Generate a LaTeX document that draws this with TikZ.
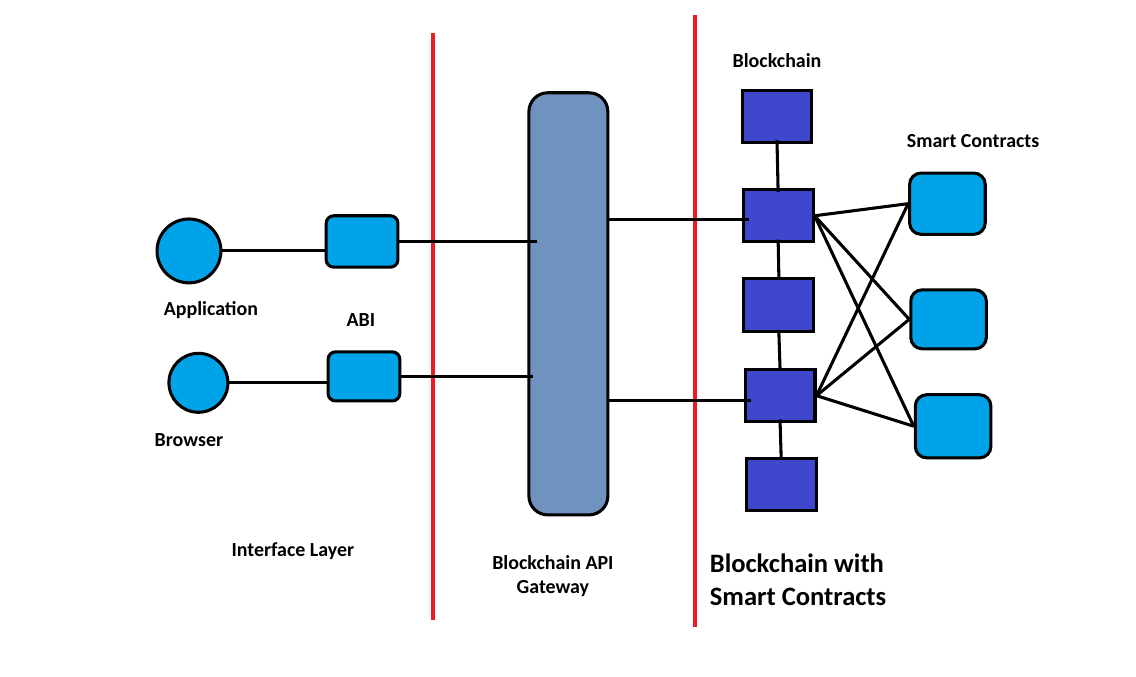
\documentclass[tikz,border=0pt]{standalone}
\usepackage{tikz}
\usetikzlibrary{positioning}
\usepackage{xcolor}
\usepackage{fontspec}
\setmainfont{Carlito}
\definecolor{PaintRed}{HTML}{ED1C24}
\definecolor{PaintIndigo}{HTML}{3F48CC}
\definecolor{PaintCyan}{HTML}{00A2E8}
\definecolor{PaintSlate}{HTML}{7092BE}

\begin{document}
\begin{tikzpicture}[font=\bfseries\fontsize{15}{18}\selectfont,
    wire/.style={line width=2.3pt},
    divider/.style={PaintRed, line width=2.5pt},
    block/.style={draw, line width=2.3pt, fill=PaintIndigo, minimum width=1.85cm, minimum height=1.38cm, inner sep=0pt},
    contract/.style={draw, line width=2.3pt, fill=PaintCyan, rounded corners=0.3cm, minimum width=2cm, minimum height=1.62cm, inner sep=0pt},
    abibox/.style={draw, line width=2.3pt, fill=PaintCyan, rounded corners=0.2cm, minimum width=1.9cm, minimum height=1.36cm, inner sep=0pt},
    client/.style={draw, line width=2.3pt, fill=PaintCyan, circle, inner sep=0pt}]
                \useasboundingbox (0,0) rectangle (30.06,17.91);

                \coordinate (d1top) at (11.46,17.04);
                \coordinate (d1bot) at (11.46,1.51);
                \coordinate (d2top) at (18.39,17.52);
                \coordinate (d2bot) at (18.39,1.32);
                \draw[divider] (d1top) -- (d1bot);
                \draw[divider] (d2top) -- (d2bot);

                \node[client, minimum size=1.69cm] (app) at (5.00,11.27) {};
                \node[client, minimum size=1.56cm] (browser) at (5.25,7.78) {};
                \node[abibox] (abi1) at (9.58,11.52) {};
                \node[abibox, minimum height=1.30cm] (abi2) at (9.63,7.95) {};

                \node[draw, line width=2.3pt, fill=PaintSlate, rounded corners=0.5cm, minimum width=2.09cm, minimum height=11.17cm] (gw) at (15.04,9.87) {};

                \node[block] (b1) at (20.56,14.83) {};
                \node[block] (b2) at (20.59,12.20) {};
                \node[block] (b3) at (20.61,9.84) {};
                \node[block] (b4) at (20.64,7.44) {};
                \node[block] (b5) at (20.67,5.08) {};

                \node[contract] (sc1) at (25.07,12.52) {};
                \node[contract, minimum height=1.56cm] (sc2) at (25.10,9.46) {};
                \node[contract, minimum height=1.67cm] (sc3) at (25.22,6.63) {};

                \draw[wire] (app) -- (app -| abi1.west);
                \draw[wire] (browser) -- (browser -| abi2.west);
                \draw[wire] (abi1.east) -- ([xshift=0.25cm]abi1.east -| gw.west);
                \draw[wire] (abi2.east) -- ([xshift=0.15cm]abi2.east -| gw.west);
                \draw[wire] ([yshift=-0.1cm]b2 -| gw.east) -- ([xshift=0.2cm,yshift=-0.1cm]b2.west);
                \draw[wire] ([yshift=-0.13cm]b4 -| gw.east) -- ([xshift=0.2cm,yshift=-0.13cm]b4.west);

                \draw[wire] ([yshift=0.1cm]b1.south) -- ([yshift=-0.1cm]b2.north);
                \draw[wire] ([yshift=0.1cm]b2.south) -- (b3.north);
                \draw[wire] (b3.south) -- (b4.north);
                \draw[wire] ([yshift=0.1cm]b4.south) -- (b5.north);

                \foreach \src in {b2, b4} {
                    \foreach \dst in {sc1, sc2, sc3} {
                        \draw[wire] (\src.east) -- (\dst.west);
                    }
                }

                \node (bclabel) at (20.56,16.30) {Blockchain};
                \node (sclabel) at (25.75,14.18) {Smart Contracts};
                \node (applabel) at (5.58,9.71) {Application};
                \node (abilabel) at (9.55,9.45) {ABI};
                \node (brlabel) at (5.00,6.27) {Browser};
                \node (iflabel) at (7.75,3.33) {Interface Layer};
                \node[align=center] (gwlabel) at (14.63,2.67) {Blockchain API\\Gateway};
                \node[anchor=west, align=left, font=\bfseries\fontsize{20}{24.5}\selectfont] (bigLabel) at (18.66,2.57) {Blockchain with\\Smart Contracts};
            \end{tikzpicture}
\end{document}
